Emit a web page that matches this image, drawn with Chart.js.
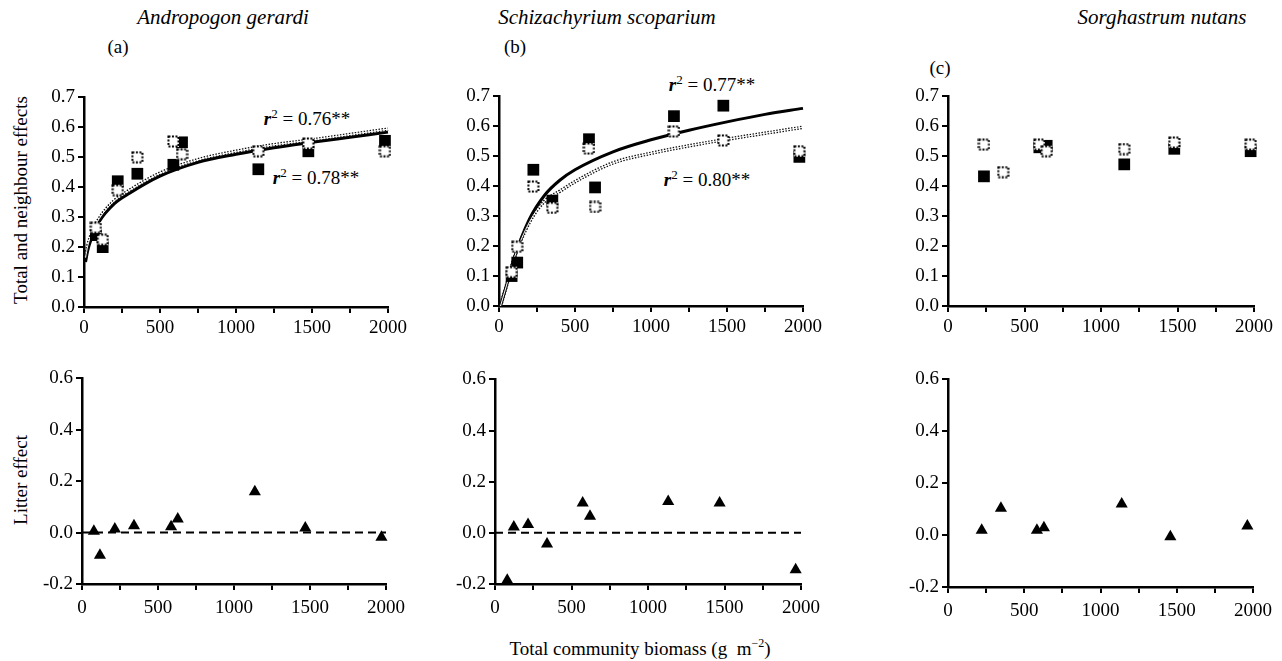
<!DOCTYPE html>
<html>
<head>
<meta charset="utf-8">
<script src="https://cdn.jsdelivr.net/npm/chart.js@4.4.0/dist/chart.umd.min.js"></script>
<style>
  body { margin: 0; background: #fff; }
  #page { position: relative; width: 1282px; height: 661px; overflow: hidden; font-family: 'Liberation Serif', 'DejaVu Serif', serif; color: #000; }
  canvas { position: absolute; }
  .lbl { position: absolute; transform: translate(-50%, -50%); white-space: nowrap; font-size: 18px; }
  .sp { font-style: italic; font-size: 21px; }
  .r2 { font-size: 19px; }
  .r2 i { font-weight: bold; }
  .r2 sup { font-size: 13px; }
  .rot { transform: translate(-50%, -50%) rotate(-90deg); font-size: 19px; }
</style>
</head>
<body>
<div id="page">
  <div class="lbl sp" style="left:223px; top:17px;">Andropogon gerardi</div>
  <div class="lbl sp" style="left:607px; top:17px;">Schizachyrium scoparium</div>
  <div class="lbl sp" style="left:1162px; top:17px;">Sorghastrum nutans</div>
  <div class="lbl" style="left:118px; top:47px; font-size:19px;">(a)</div>
  <div class="lbl" style="left:515px; top:47px; font-size:19px;">(b)</div>
  <div class="lbl" style="left:940px; top:68px; font-size:19px;">(c)</div>
  <div class="lbl r2" style="left:307px; top:118px;"><i>r</i><sup>2</sup> = 0.76**</div>
  <div class="lbl r2" style="left:316px; top:177px;"><i>r</i><sup>2</sup> = 0.78**</div>
  <div class="lbl r2" style="left:712px; top:84px;"><i>r</i><sup>2</sup> = 0.77**</div>
  <div class="lbl r2" style="left:707px; top:179px;"><i>r</i><sup>2</sup> = 0.80**</div>
  <div class="lbl rot" style="left:21px; top:200px;">Total and neighbour effects</div>
  <div class="lbl rot" style="left:21px; top:480px;">Litter effect</div>
  <div class="lbl" style="left:640px; top:648px; font-size:19px;">Total community biomass (g&nbsp;&nbsp;m<sup style="font-size:12px;">&minus;2</sup>)</div>
</div>
<script>
// ---- data ----
// (a) Andropogon gerardi
const biomassA = [78, 123, 222, 351, 588, 645, 1147, 1476, 1980];
const totalA = [0.24, 0.20, 0.42, 0.445, 0.475, 0.55, 0.46, 0.52, 0.555];
const neighbourA = [0.265, 0.225, 0.39, 0.50, 0.553, 0.51, 0.52, 0.546, 0.52];
const fitXA = [10, 25, 50, 100, 200, 300, 500, 750, 1000, 1250, 1500, 1750, 2000];
const fitTotalA = [0.15, 0.19, 0.23, 0.285, 0.345, 0.38, 0.437, 0.483, 0.51, 0.532, 0.55, 0.567, 0.584];
const fitNeighbourA = [0.165, 0.205, 0.245, 0.295, 0.355, 0.39, 0.447, 0.492, 0.52, 0.542, 0.558, 0.576, 0.594];
const litterXA = [78, 118, 216, 342, 586, 630, 1137, 1469, 1970];
const litterA = [0.005, -0.088, 0.014, 0.027, 0.023, 0.053, 0.159, 0.018, -0.018];

// (b) Schizachyrium scoparium
const biomassB = [83, 120, 226, 351, 592, 632, 1151, 1476, 1976];
const totalB = [0.10, 0.145, 0.455, 0.352, 0.557, 0.396, 0.634, 0.669, 0.498];
const neighbourB = [0.113, 0.198, 0.399, 0.328, 0.526, 0.331, 0.583, 0.553, 0.517];
const fitXB = [10, 50, 100, 200, 300, 400, 500, 750, 1000, 1250, 1500, 1750, 2000];
const fitTotalB = [0.0, 0.07, 0.16, 0.29, 0.37, 0.42, 0.455, 0.515, 0.555, 0.587, 0.615, 0.64, 0.66];
const fitNeighbourB = [0.0, 0.07, 0.16, 0.28, 0.35, 0.383, 0.415, 0.478, 0.51, 0.535, 0.557, 0.577, 0.597];
const litterXB = [80, 123, 216, 340, 573, 621, 1132, 1468, 1965];
const litterB = [-0.185, 0.023, 0.033, -0.044, 0.117, 0.065, 0.123, 0.117, -0.144];

// (c) Sorghastrum nutans
const biomassC = [235, 361, 597, 645, 1152, 1479, 1978];
const totalC = [0.433, null, 0.53, 0.535, 0.473, 0.525, 0.517];
const neighbourC = [0.539, 0.447, 0.539, 0.517, 0.524, 0.546, 0.539];
const litterXC = [221, 347, 583, 629, 1139, 1458, 1963];
const litterC = [0.019, 0.103, 0.019, 0.028, 0.12, -0.006, 0.035];

const zeroLineX = [0, 2000];
const zeroLineY = [0, 0];

// ---- drawing ----
const FONT = "'Liberation Serif', 'DejaVu Serif', serif";

function pts(xs, ys) {
    return xs.map(function(x, i) { return {x: x, y: ys[i]}; });
}

// stippled open square marker
function openSquare() {
    const c = document.createElement('canvas');
    c.width = 13; c.height = 13;
    const g = c.getContext('2d');
    g.fillStyle = '#fff';
    g.fillRect(1, 1, 11, 11);
    g.strokeStyle = '#000';
    g.lineWidth = 2;
    g.setLineDash([2, 1.5]);
    g.strokeRect(1.5, 1.5, 10, 10);
    return c;
}
const openMark = openSquare();

function filledSet(xs, ys) {
    return { data: pts(xs, ys), pointStyle: 'rect', pointRadius: 8.3, backgroundColor: '#000', borderColor: '#000', borderWidth: 0, showLine: false, order: 2 };
}
function openSet(xs, ys) {
    return { data: pts(xs, ys), pointStyle: openMark, pointRadius: 7, showLine: false, order: 1 };
}
function solidFit(xs, ys) {
    return { data: pts(xs, ys), showLine: true, pointRadius: 0, borderColor: '#000', borderWidth: 3, cubicInterpolationMode: 'monotone', order: 5 };
}
function stippledFit(xs, ys) {
    return [
        { data: pts(xs, ys), showLine: true, pointRadius: 0, borderColor: '#111', borderWidth: 3.5, borderDash: [1.5, 1.5], cubicInterpolationMode: 'monotone', order: 4 },
        { data: pts(xs, ys), showLine: true, pointRadius: 0, borderColor: '#fff', borderWidth: 1, cubicInterpolationMode: 'monotone', order: 3 }
    ];
}
function triSet(xs, ys) {
    return { data: pts(xs, ys), pointStyle: 'triangle', pointRadius: 7, backgroundColor: '#000', borderColor: '#000', borderWidth: 0, showLine: false, order: 1 };
}
function dashedZero() {
    return { data: pts(zeroLineX, zeroLineY), showLine: true, pointRadius: 0, borderColor: '#000', borderWidth: 2, borderDash: [8, 5], order: 3 };
}

const AXW = 50, PADT = 12, PADR = 24, AXH = 40;

function makePanel(area, yMin, yMax, yStep, labelPad, datasets) {
    const cv = document.createElement('canvas');
    const w = (area.r - area.l) + AXW + PADR;
    const h = (area.b - area.t) + PADT + AXH;
    cv.width = w; cv.height = h;
    cv.style.left = (area.l - AXW) + 'px';
    cv.style.top = (area.t - PADT) + 'px';
    document.getElementById('page').appendChild(cv);

    const tickFont = { family: FONT, size: 19 };
    const grid = { drawOnChartArea: false, drawTicks: true, tickLength: 6, color: '#000', lineWidth: 2 };
    const border = { display: true, color: '#000', width: 2.5 };

    new Chart(cv, {
        type: 'scatter',
        data: { datasets: datasets },
        options: {
            responsive: false,
            animation: false,
            devicePixelRatio: 1,
            clip: false,
            layout: { padding: { left: 0, top: PADT, right: PADR, bottom: 0 } },
            plugins: { legend: { display: false }, tooltip: { enabled: false } },
            scales: {
                x: {
                    type: 'linear', min: 0, max: 2000,
                    grid: grid, border: border,
                    afterFit: function(s) { s.height = AXH; },
                    ticks: {
                        stepSize: 250, autoSkip: false, maxRotation: 0, color: '#000', font: tickFont, padding: labelPad,
                        callback: function(v) { return v % 500 === 0 ? String(v) : ''; }
                    }
                },
                y: {
                    min: yMin, max: yMax,
                    grid: grid, border: border,
                    afterFit: function(s) { s.width = AXW; },
                    ticks: {
                        stepSize: yStep, autoSkip: false, color: '#000', font: tickFont, padding: 3,
                        callback: function(v) { return Number(v).toFixed(1); }
                    }
                }
            }
        }
    });
}

// top row
makePanel({l: 84, t: 95, r: 388, b: 307}, 0, 0.7, 0.1, 4,
    [filledSet(biomassA, totalA), openSet(biomassA, neighbourA), solidFit(fitXA, fitTotalA)].concat(stippledFit(fitXA, fitNeighbourA)));
makePanel({l: 499, t: 94, r: 803, b: 306}, 0, 0.7, 0.1, 4,
    [filledSet(biomassB, totalB), openSet(biomassB, neighbourB), solidFit(fitXB, fitTotalB)].concat(stippledFit(fitXB, fitNeighbourB)));
makePanel({l: 948, t: 94, r: 1254, b: 306}, 0, 0.7, 0.1, 4,
    [filledSet(biomassC, totalC), openSet(biomassC, neighbourC)]);

// bottom row
makePanel({l: 82, t: 376, r: 388, b: 584}, -0.2, 0.6, 0.2, 7,
    [triSet(litterXA, litterA), dashedZero()]);
makePanel({l: 495, t: 377, r: 803, b: 584}, -0.2, 0.6, 0.2, 7,
    [triSet(litterXB, litterB), dashedZero()]);
makePanel({l: 948, t: 377, r: 1255, b: 587}, -0.2, 0.6, 0.2, 7,
    [triSet(litterXC, litterC)]);
</script>
</body>
</html>
